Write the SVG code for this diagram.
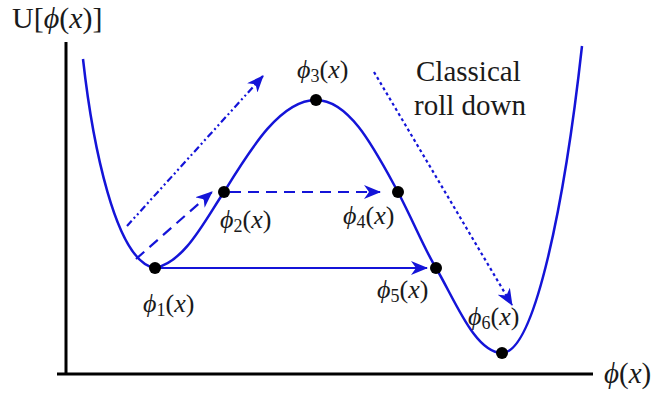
<svg xmlns="http://www.w3.org/2000/svg" width="663" height="398" viewBox="0 0 663 398">
<style>
text{fill:#1a1a1a;font-family:"Times New Roman","Liberation Serif","DejaVu Serif",serif}
.lbl{font-size:26px}
.it{font-style:italic}
.sub{font-size:18px}
.conn{fill:none;stroke:#1414d8;stroke-width:2.2}
.dot{fill:#000}
</style>
<defs>
<marker id="ah" markerUnits="userSpaceOnUse" markerWidth="18" markerHeight="14" refX="16" refY="7" orient="auto">
<path d="M0,0 L17,7 L0,14 L5,7 Z" fill="#1414d8"/>
</marker>
</defs>
<g id="axes" stroke="#000" stroke-width="3">
<line x1="66" y1="42" x2="66" y2="374"/>
<line x1="57" y1="374" x2="593" y2="374"/>
</g>
<text x="12" y="28" font-size="30">U[<tspan class="it">ϕ</tspan>(<tspan class="it">x</tspan>)]</text>
<text x="604" y="383" font-size="29"><tspan class="it">ϕ</tspan>(<tspan class="it">x</tspan>)</text>
<g id="curve">
<path d="M83,59 C92,140 115,262 155,268 C185,262 205,220 224,192 C250,150 280,100 316,100 C350,100 375,150 398,192 C415,225 425,250 436,268 C455,300 475,353 502,353 C535,353 565,200 582,46" fill="none" stroke="#1414d8" stroke-width="2.5"/>
</g>
<g id="connectors">
<line class="conn" x1="127" y1="226" x2="263" y2="76" stroke-dasharray="7 3 2 3 2 3" marker-end="url(#ah)"/>
<line class="conn" x1="136" y1="259" x2="212" y2="192" stroke-dasharray="11 7" marker-end="url(#ah)"/>
<line class="conn" x1="230" y1="192" x2="380" y2="192" stroke-dasharray="11 7" marker-end="url(#ah)"/>
<line class="conn" x1="160" y1="268" x2="427" y2="268" marker-end="url(#ah)"/>
<line class="conn" x1="374" y1="72" x2="512" y2="305" stroke-dasharray="3 3" marker-end="url(#ah)"/>
</g>
<g id="phi1"><circle class="dot" cx="155" cy="268" r="6"/><text class="lbl" x="143" y="312"><tspan class="it">ϕ</tspan><tspan class="sub" dy="4">1</tspan><tspan dy="-4">(</tspan><tspan class="it">x</tspan>)</text></g>
<g id="phi2"><circle class="dot" cx="224" cy="192" r="6"/><text class="lbl" x="220" y="228"><tspan class="it">ϕ</tspan><tspan class="sub" dy="4">2</tspan><tspan dy="-4">(</tspan><tspan class="it">x</tspan>)</text></g>
<g id="phi3"><circle class="dot" cx="316" cy="100" r="6"/><text class="lbl" x="297" y="78"><tspan class="it">ϕ</tspan><tspan class="sub" dy="4">3</tspan><tspan dy="-4">(</tspan><tspan class="it">x</tspan>)</text></g>
<g id="phi4"><circle class="dot" cx="398" cy="192" r="6"/><text class="lbl" x="343" y="224"><tspan class="it">ϕ</tspan><tspan class="sub" dy="4">4</tspan><tspan dy="-4">(</tspan><tspan class="it">x</tspan>)</text></g>
<g id="phi5"><circle class="dot" cx="436" cy="268" r="6"/><text class="lbl" x="377" y="298"><tspan class="it">ϕ</tspan><tspan class="sub" dy="4">5</tspan><tspan dy="-4">(</tspan><tspan class="it">x</tspan>)</text></g>
<g id="phi6"><circle class="dot" cx="502" cy="353" r="6"/><text class="lbl" x="468" y="325"><tspan class="it">ϕ</tspan><tspan class="sub" dy="4">6</tspan><tspan dy="-4">(</tspan><tspan class="it">x</tspan>)</text></g>
<g id="classical"><text x="416" y="81" font-size="29">Classical</text><text x="414" y="115" font-size="29">roll down</text></g>
</svg>
